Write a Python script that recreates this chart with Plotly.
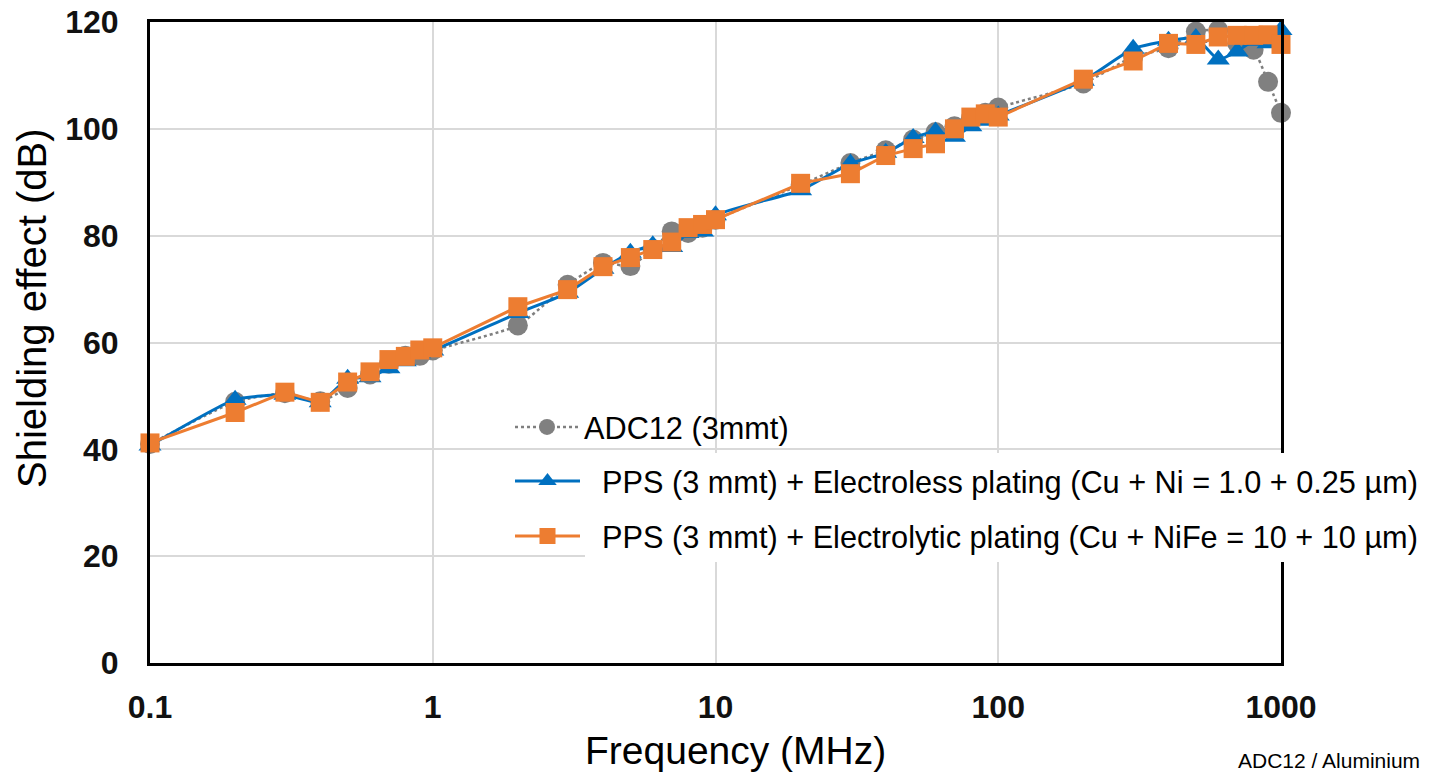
import plotly.graph_objects as go

freq = [0.1, 0.2, 0.3, 0.4, 0.5, 0.6, 0.7, 0.8, 0.9, 1,
        2, 3, 4, 5, 6, 7, 8, 9, 10,
        20, 30, 40, 50, 60, 70, 80, 90, 100,
        200, 300, 400, 500, 600, 700, 800, 900, 1000]

adc12 = [41.0, 48.9, 50.5, 49.0, 51.5, 54.0, 56.0, 57.5, 57.5, 58.5,
         63.2, 70.8, 74.9, 74.3, 77.5, 80.8, 80.5, 81.5, 83.0,
         89.5, 93.6, 96.0, 98.0, 99.4, 100.5, 102.0, 103.0, 104.0,
         108.5, 113.5, 115.1, 118.2, 118.5, 116.0, 114.8, 108.8, 103.0]

electroless = [40.7, 49.3, 50.2, 48.8, 53.2, 53.5, 55.2, 56.5, 58.0, 58.5,
               65.5, 69.3, 73.8, 76.8, 78.2, 77.9, 80.5, 80.8, 83.8,
               88.5, 93.5, 95.5, 98.3, 99.5, 98.5, 100.5, 101.5, 102.5,
               109.0, 115.0, 116.5, 117.0, 113.0, 114.5, 116.5, 116.0, 118.5]

electrolytic = [41.2, 46.9, 50.7, 48.8, 52.6, 54.5, 56.8, 57.4, 58.6, 59.0,
                66.7, 69.9, 74.2, 75.9, 77.4, 78.8, 81.5, 82.1, 83.0,
                89.8, 91.6, 95.0, 96.3, 97.2, 100.0, 102.2, 102.8, 102.2,
                109.3, 112.7, 116.0, 115.8, 117.2, 117.5, 117.5, 117.6, 115.8]

names = ["ADC12 (3mmt)",
         "PPS (3 mmt) + Electroless plating (Cu + Ni = 1.0 + 0.25 µm)",
         "PPS (3 mmt) + Electrolytic plating (Cu + NiFe = 10 + 10 µm)"]

x_ticks = [0.1, 1, 10, 100, 1000]
x_ticktext = ["0.1", "1", "10", "100", "1000"]
y_ticks = [0, 20, 40, 60, 80, 100, 120]

FONT = "Liberation Sans, Arial, sans-serif"
W, H = 1429, 776
L, R, T, B = 150, 148, 22, 113
PW, PH = W - L - R, H - T - B


def px_x(p):
    return (p - L) / PW


def px_y(p):
    return (H - B - p) / PH


NB = "\u00a0\u00a0"

fig = go.Figure()
fig.add_trace(go.Scatter(
    x=freq, y=adc12, name=names[0], mode="lines+markers",
    line=dict(color="#7f7f7f", width=2.5, dash="dot", shape="spline", smoothing=0.5),
    marker=dict(symbol="circle", size=20, color="#808080"),
    cliponaxis=False, legend="legend", showlegend=True))
fig.add_trace(go.Scatter(
    x=freq, y=electroless, name=NB + names[1], mode="lines+markers",
    line=dict(color="#0070C0", width=3, shape="spline", smoothing=0.5),
    marker=dict(symbol="triangle-up", size=20, color="#0070C0"),
    cliponaxis=False, legend="legend2", showlegend=True))
fig.add_trace(go.Scatter(
    x=freq, y=electrolytic, name=NB + names[2], mode="lines+markers",
    line=dict(color="#ED7D31", width=3),
    marker=dict(symbol="square", size=19, color="#ED7D31"),
    cliponaxis=False, legend="legend3", showlegend=True))

legend_font = dict(family=FONT, size=30.7, color="#000000")
common_leg = dict(font=legend_font, bgcolor="rgba(0,0,0,0)", borderwidth=0,
                  xanchor="left", yanchor="middle")

fig.update_layout(
    width=W, height=H, showlegend=True,
    margin=dict(l=L, r=R, t=T, b=B, autoexpand=False),
    paper_bgcolor="white", plot_bgcolor="white",
    legend=dict(x=px_x(510), y=px_y(427), itemwidth=64, **common_leg),
    legend2=dict(x=px_x(510), y=px_y(481), itemwidth=65, **common_leg),
    legend3=dict(x=px_x(510), y=px_y(536), itemwidth=65, **common_leg),
    xaxis=dict(
        type="log", range=[-1, 3], tickvals=x_ticks, ticktext=x_ticktext,
        showgrid=True, gridcolor="#d9d9d9", gridwidth=2,
        showline=True, linecolor="#000000", linewidth=3, mirror=True,
        ticks="", ticklabelstandoff=14,
        tickfont=dict(family=FONT, size=32, color="#111111", weight="bold"),
    ),
    yaxis=dict(
        range=[0, 120], tickvals=y_ticks,
        showgrid=True, gridcolor="#d9d9d9", gridwidth=2,
        showline=True, linecolor="#000000", linewidth=3, mirror=True,
        ticks="", ticklabelstandoff=22, zeroline=False,
        tickfont=dict(family=FONT, size=32, color="#111111", weight="bold"),
    ),
    shapes=[dict(type="rect", xref="paper", yref="paper",
                 x0=px_x(585), x1=px_x(1422), y0=px_y(562), y1=px_y(453),
                 fillcolor="white", line=dict(width=0), layer="above")],
    annotations=[
        dict(text="Frequency (MHz)", xref="paper", yref="paper",
             x=px_x(735), y=px_y(750), xanchor="center", yanchor="middle",
             showarrow=False, font=dict(family=FONT, size=39, color="#000000")),
        dict(text="Shielding effect (dB)", xref="paper", yref="paper",
             x=px_x(32), y=px_y(309), xanchor="center", yanchor="middle",
             textangle=-90, showarrow=False,
             font=dict(family=FONT, size=40, color="#000000")),
        dict(text="ADC12 / Aluminium", xref="paper", yref="paper",
             x=px_x(1422), y=px_y(760), xanchor="right", yanchor="middle",
             showarrow=False, font=dict(family=FONT, size=21, color="#000000")),
    ],
)

fig.write_html("out.html")
